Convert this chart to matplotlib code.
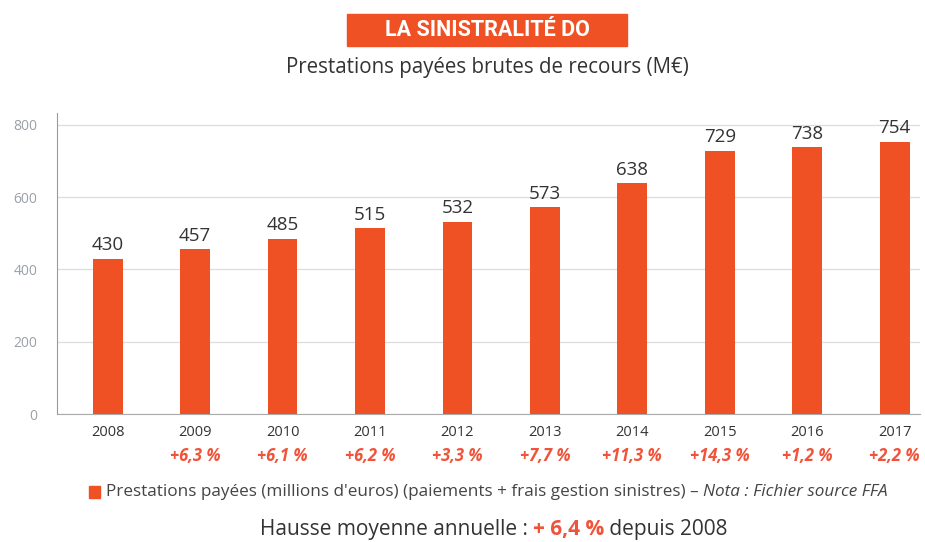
import matplotlib
matplotlib.use("Agg")
import matplotlib.pyplot as plt
from matplotlib.patches import Rectangle

plt.rcParams['font.family'] = ['Open Sans', 'DejaVu Sans']

# data
years = ['2008', '2009', '2010', '2011', '2012', '2013', '2014', '2015', '2016', '2017']
values = [430, 457, 485, 515, 532, 573, 638, 729, 738, 754]
growth = ['', '+6,3 %', '+6,1 %', '+6,2 %', '+3,3 %', '+7,7 %', '+11,3 %', '+14,3 %', '+1,2 %', '+2,2 %']
yticks = [0, 200, 400, 600, 800]

orange = '#EF5124'
red_txt = '#F0533A'
dark = '#333333'

fig = plt.figure(figsize=(9.25, 5.42), dpi=100)
ax = fig.add_axes([57 / 925, 1 - 414 / 542, 863 / 925, 301 / 542])

x = list(range(len(years)))
ax.bar(x, values, width=0.34, color=orange, zorder=3)
for xi, v in zip(x, values):
    ax.text(xi, v + 12, str(v), ha='center', va='bottom', fontsize=13.5, color=dark)

ax.set_xlim(-0.58, 9.29)
ax.set_ylim(0, 833)
ax.set_yticks(yticks)
ax.set_yticklabels([str(t) for t in yticks], color='#9AA0A8', fontsize=10)
ax.set_xticks(x)
ax.set_xticklabels(years, fontsize=10.5, color=dark)
ax.tick_params(length=0)
ax.tick_params(axis='y', pad=14)
ax.tick_params(axis='x', pad=8)
ax.grid(axis='y', color='#DDDDDD', linewidth=0.9, zorder=0)
for s in ['top', 'right']:
    ax.spines[s].set_visible(False)
ax.spines['left'].set_color('#9A9A9A')
ax.spines['bottom'].set_color('#AAAAAA')

for xi, g in zip(x, growth):
    if g:
        ax.annotate(g, xy=(xi, 0), xycoords='data', xytext=(0, -30.5),
                    textcoords='offset points', ha='center', va='center',
                    fontsize=12, color=red_txt, fontweight='bold', style='italic')

# title box
fig.patches.append(Rectangle((347 / 925, 1 - 46 / 542), 280 / 925, 32 / 542,
                             transform=fig.transFigure, color=orange))
fig.text(487 / 925, 1 - 30 / 542, 'LA SINISTRALITÉ DO', ha='center', va='center',
         fontsize=15.5, color='white', fontweight='bold', family=['Roboto', 'DejaVu Sans'])
fig.text(487 / 925, 1 - 68 / 542, 'Prestations payées brutes de recours (M€)',
         ha='center', va='center', fontsize=14.8, color=dark)


def text_row(pieces, x0, y, align='left'):
    # draw pieces one after another on a line
    fig.canvas.draw()
    r = fig.canvas.get_renderer()
    items = []
    for s, kw in pieces:
        t = fig.text(0, y, s, va='center', **kw)
        items.append(t)
    widths = [t.get_window_extent(r).width / fig.bbox.width for t in items]
    total = sum(widths)
    xs = x0 - total / 2 if align == 'center' else x0
    for t, w in zip(items, widths):
        t.set_x(xs)
        xs += w


# legend line
fig.patches.append(Rectangle((89 / 925, 1 - 498 / 542), 11 / 925, 12 / 542,
                             transform=fig.transFigure, color=orange))
text_row([
    ('Prestations payées (millions d\'euros) (paiements + frais gestion sinistres) – ',
     dict(fontsize=12.3, color='#444444')),
    ('Nota : Fichier source FFA', dict(fontsize=12.3, color='#444444', style='italic')),
], 106 / 925, 1 - 492 / 542)

text_row([
    ('Hausse moyenne annuelle : ', dict(fontsize=15, color=dark)),
    ('+ 6,4 %', dict(fontsize=15, color=red_txt, fontweight='bold')),
    (' depuis 2008', dict(fontsize=15, color=dark)),
], 494 / 925, 1 - 529 / 542, align='center')

fig.savefig('out.png', dpi=100)
